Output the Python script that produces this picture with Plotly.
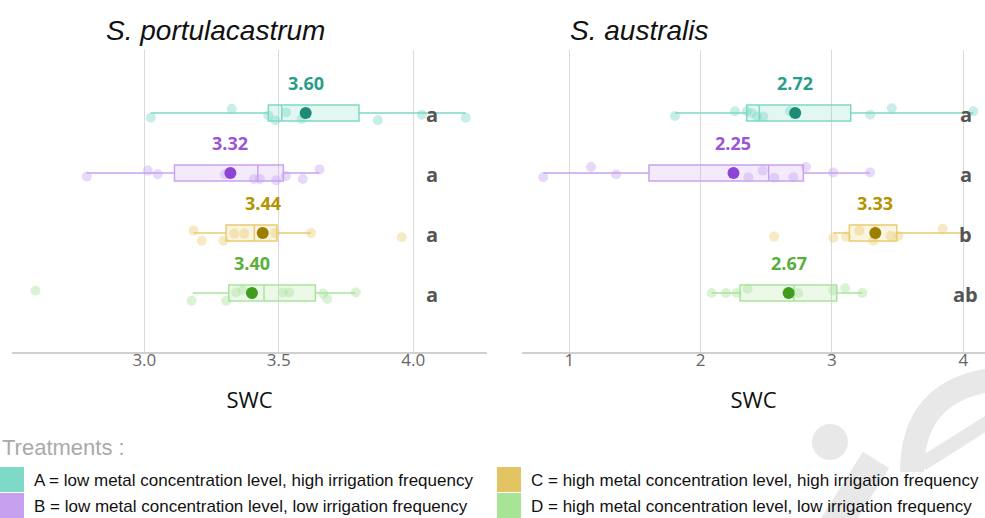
import plotly.graph_objects as go

# ---------------- data ----------------
treatments = ["A", "B", "C", "D"]
species = ["S. portulacastrum", "S. australis"]

# S. portulacastrum box stats
sp_lo = [3.024, 2.786, 3.183, 3.180]
sp_q1 = [3.461, 3.112, 3.304, 3.314]
sp_med = [3.511, 3.422, 3.409, 3.445]
sp_q3 = [3.798, 3.517, 3.493, 3.636]
sp_hi = [4.195, 3.651, 3.620, 3.786]
sp_mean = [3.60, 3.32, 3.44, 3.40]
sp_letters = ["a", "a", "a", "a"]
sp_points = [
    [3.024, 3.325, 3.461, 3.487, 3.527, 3.585, 3.868, 4.032, 4.195],
    [2.786, 3.013, 3.050, 3.300, 3.408, 3.430, 3.490, 3.526, 3.589, 3.651],
    [3.183, 3.214, 3.294, 3.335, 3.372, 3.486, 3.620, 3.957],
    [2.595, 3.176, 3.304, 3.341, 3.366, 3.515, 3.539, 3.665, 3.680, 3.786],
]

# S. australis box stats
sa_lo = [1.805, 0.802, 3.010, 2.084]
sa_q1 = [2.351, 1.607, 3.132, 2.300]
sa_med = [2.447, 2.518, 3.330, 2.711]
sa_q3 = [3.143, 2.782, 3.493, 3.036]
sa_hi = [4.076, 3.290, 4.000, 3.231]
sa_mean = [2.72, 2.25, 3.33, 2.67]
sa_letters = ["a", "a", "b", "ab"]
sa_points = [
    [1.805, 2.262, 2.351, 2.389, 2.430, 2.477, 2.680, 3.290, 3.455, 4.076],
    [0.802, 1.165, 1.356, 2.363, 2.473, 2.561, 2.706, 2.802, 3.010, 3.290],
    [2.559, 3.010, 3.107, 3.208, 3.315, 3.447, 3.505, 3.843],
    [2.084, 2.193, 2.275, 2.358, 2.743, 3.010, 3.100, 3.231],
]

legend_labels = [
    "A = low metal concentration level, high irrigation frequency",
    "B = low metal concentration level, low irrigation frequency",
    "C = high metal concentration level, high irrigation frequency",
    "D = high metal concentration level, low irrigation frequency",
]

# vertical jitter of the sample points (row units)
sp_jit = [
    [0.08, -0.07, 0.04, 0.12, -0.01, 0.10, 0.12, 0.03, 0.08],
    [0.06, -0.04, 0.02, 0.02, 0.10, 0.10, 0.12, 0.05, 0.10, -0.06],
    [-0.04, 0.13, 0.13, 0.01, 0.01, 0.00, 0.00, 0.07],
    [-0.04, 0.13, 0.13, -0.01, -0.05, -0.01, -0.01, 0.01, 0.10, -0.01],
]
sa_jit = [
    [0.05, -0.03, -0.03, 0.00, 0.06, 0.06, -0.03, 0.03, -0.08, -0.03],
    [0.07, -0.10, 0.02, 0.07, -0.04, 0.08, 0.07, -0.10, -0.01, -0.01],
    [0.06, 0.08, 0.06, -0.04, 0.13, 0.05, 0.05, -0.07],
    [0.00, 0.00, 0.00, -0.07, 0.00, -0.04, -0.08, 0.00],
]

# ---------------- styles ----------------
line_c = ["#7dd9c5", "#c8a2f0", "#e8cc70", "#a9e39b"]
fill_c = ["rgba(125,217,197,0.22)", "rgba(200,162,240,0.22)",
          "rgba(232,204,112,0.22)", "rgba(169,227,155,0.22)"]
text_c = ["#2a9d8a", "#9b55d4", "#b39300", "#5aae3c"]
mean_c = ["#1e8c75", "#8e44d6", "#9c7e00", "#3f9c1c"]
sq_c = ["#7fd9c7", "#c5a1f0", "#e2c462", "#a8e496"]

fig = go.Figure()
rows = list(range(len(treatments)))

panels = [
    ("x", "y", sp_lo, sp_q1, sp_med, sp_q3, sp_hi, sp_mean, sp_points, sp_jit),
    ("x2", "y2", sa_lo, sa_q1, sa_med, sa_q3, sa_hi, sa_mean, sa_points, sa_jit),
]
for xa, ya, lo, q1, med, q3, hi, mean, pts, jit in panels:
    for i in rows:
        fig.add_trace(go.Box(
            y=[i], q1=[q1[i]], median=[med[i]], q3=[q3[i]],
            lowerfence=[lo[i]], upperfence=[hi[i]],
            orientation="h", width=0.27, whiskerwidth=0,
            line=dict(color=line_c[i], width=1.5), fillcolor=fill_c[i],
            boxpoints=False, xaxis=xa, yaxis=ya, showlegend=False,
            hoverinfo="skip"))
        fig.add_trace(go.Scatter(
            x=pts[i], y=[i + j for j in jit[i]], mode="markers",
            marker=dict(size=10, color=line_c[i], opacity=0.42),
            xaxis=xa, yaxis=ya, showlegend=False, hoverinfo="skip"))
        fig.add_trace(go.Scatter(
            x=[mean[i]], y=[i], mode="markers",
            marker=dict(size=12, color=mean_c[i]),
            xaxis=xa, yaxis=ya, showlegend=False, hoverinfo="skip"))

tick_font = dict(family="Open Sans", size=17, color="#666666")
axis_common = dict(showgrid=True, gridcolor="#d9d9d9", gridwidth=1,
                   zeroline=False, showline=True, linecolor="#d0d0d0",
                   linewidth=1.5, ticks="", tickfont=tick_font, ticklabelstandoff=-8,
                   title=dict(text="SWC", font=dict(family="Open Sans", size=22, color="#111111"),
                              standoff=22))

W, H = 985, 518
L, R, T, B = 12, 0, 50, 166
pw, ph = W - L - R, H - T - B


def px(x):
    return (x - L) / pw


def py(y):
    return (H - B - y) / ph


fig.update_layout(
    width=W, height=H, margin=dict(l=L, r=R, t=T, b=B),
    paper_bgcolor="white", plot_bgcolor="white",
    xaxis=dict(domain=[0, px(487)], range=[2.508, 4.274],
               tickvals=[3.0, 3.5, 4.0], ticktext=["3.0", "3.5", "4.0"], **axis_common),
    xaxis2=dict(domain=[px(522), 1], range=[0.64, 4.165],
                tickvals=[1, 2, 3, 4], **axis_common),
    yaxis=dict(range=[3.983, -1.05], showgrid=False, zeroline=False,
               showticklabels=False, showline=False),
    yaxis2=dict(range=[3.983, -1.05], showgrid=False, zeroline=False,
                showticklabels=False, showline=False, anchor="x2"),
)

ann = []
for xa, ya, mean, letters, lx in [("x", "y", sp_mean, sp_letters, 4.07),
                                   ("x2", "y2", sa_mean, sa_letters, 4.02)]:
    for i in rows:
        ann.append(dict(x=mean[i], y=i - 0.5, xref=xa, yref=ya, text=f"{mean[i]:.2f}",
                        showarrow=False, xanchor="center", yanchor="middle",
                        font=dict(family="Open Sans", size=18, color=text_c[i], weight="bold")))
        ann.append(dict(x=lx, y=i + 0.03, xref=xa, yref=ya, text=letters[i],
                        showarrow=False, xanchor="center", yanchor="middle",
                        font=dict(family="Open Sans", size=20, color="#555555", weight="bold")))

title_font = dict(family="Liberation Sans", size=28, color="#111111", style="italic")
ann.append(dict(x=px(215), y=py(30), xref="paper", yref="paper", text=species[0],
                showarrow=False, xanchor="center", yanchor="middle", font=title_font))
ann.append(dict(x=px(639), y=py(30), xref="paper", yref="paper", text=species[1],
                showarrow=False, xanchor="center", yanchor="middle", font=title_font))

leg_font = dict(family="Liberation Sans", size=17, color="#111111")
ann.append(dict(x=px(0), y=py(447), xref="paper", yref="paper", text="Treatments :",
                xanchor="left", yanchor="middle", showarrow=False,
                font=dict(family="Liberation Sans", size=22, color="#aaaaaa")))

shapes = []
# watermark
wm = "#e8e8e8"
shapes.append(dict(type="circle", xref="paper", yref="paper", x0=px(812), x1=px(848),
                   y0=py(460), y1=py(424), fillcolor=wm, line=dict(width=0), layer="below"))
shapes.append(dict(type="line", xref="paper", yref="paper", x0=px(832), y0=py(530),
                   x1=px(876), y1=py(460), line=dict(color=wm, width=31), layer="below"))
shapes.append(dict(type="path", xref="paper", yref="paper",
                   path=f"M {px(912)},{py(472)} Q {px(912)},{py(392)} {px(990)},{py(380)}",
                   line=dict(color=wm, width=24), layer="below"))
shapes.append(dict(type="line", xref="paper", yref="paper", x0=px(922), y0=py(464),
                   x1=px(990), y1=py(421), line=dict(color=wm, width=14), layer="below"))

positions = [(0, 467), (0, 493), (497, 467), (497, 493)]
for i, (x0, y0) in enumerate(positions):
    shapes.append(dict(type="rect", xref="paper", yref="paper", x0=px(x0), x1=px(x0 + 24),
                       y0=py(y0 + 25), y1=py(y0), fillcolor=sq_c[i], line=dict(width=0)))
    ann.append(dict(x=px(x0 + 32), y=py(y0 + 13), xref="paper", yref="paper",
                    text=legend_labels[i], xanchor="left", yanchor="middle",
                    showarrow=False, font=leg_font))

fig.update_layout(annotations=ann, shapes=shapes)
fig.write_html("out.html")
